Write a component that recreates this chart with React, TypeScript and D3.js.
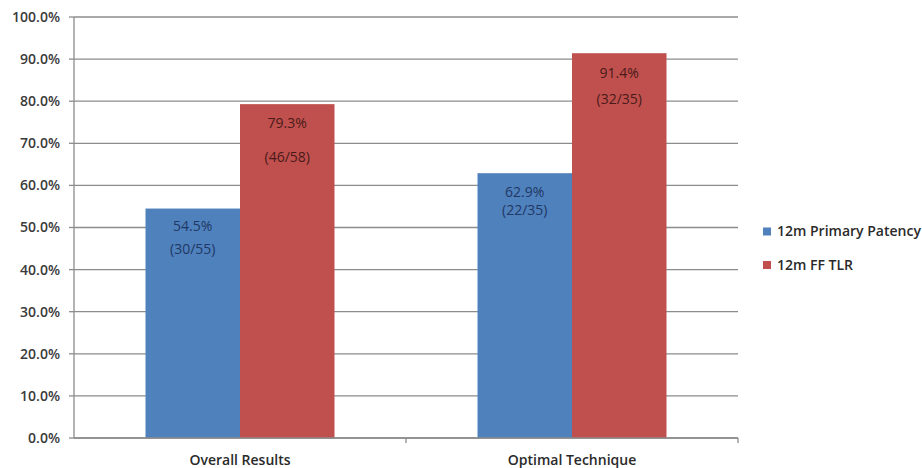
import React from "react";
import * as d3 from "d3";

const categories = ["Overall Results", "Optimal Technique"];
const seriesNames = ["12m Primary Patency", "12m FF TLR"];
const patency = [54.5, 62.9];
const tlr = [79.3, 91.4];
const patencyLabels = [["54.5%", "(30/55)"], ["62.9%", "(22/35)"]];
const tlrLabels = [["79.3%", "(46/58)"], ["91.4%", "(32/35)"]];
const yTicks = [0, 10, 20, 30, 40, 50, 60, 70, 80, 90, 100];

const colors = ["#4f81bd", "#c0504d"];
const labelColors = ["#1f3864", "#4a1a1a"];
// line offsets (px below bar top) per series / category / line
const lineOffsets = [[[18, 41], [18.5, 36.5]], [[19, 53], [20, 46]]];

export default function App() {
  const W = 922, H = 468;
  const left = 74, right = 738, top = 17, bottom = 438;
  const y = d3.scaleLinear().domain([0, 100]).range([bottom, top]);
  const x0 = d3.scaleBand().domain(categories).range([left, right]).paddingInner(0).paddingOuter(0);
  const groupW = 189;
  const x1 = d3.scaleBand().domain(seriesNames).range([0, groupW]);
  const series = [patency, tlr];
  const labels = [patencyLabels, tlrLabels];
  const font = "'Open Sans', 'Liberation Sans', sans-serif";

  return (
    <svg width={W} height={H} style={{ position: "absolute", left: 0, top: 0, background: "#fff" }} fontFamily={font}>
      <rect width={W} height={H} fill="#fff" />
      {yTicks.map((t) => (
        <g key={t}>
          <line x1={left} x2={right} y1={y(t)} y2={y(t)} stroke="#8c8c8c" strokeWidth={1.3} />
          <line x1={left - 5} x2={left} y1={y(t)} y2={y(t)} stroke="#8c8c8c" strokeWidth={1.3} />
          <text x={left - 14} y={y(t)} dy="0.35em" textAnchor="end" fontSize={14} fontWeight={600} fill="#3a3a3a">
            {t.toFixed(1) + "%"}
          </text>
        </g>
      ))}
      <line x1={left} x2={left} y1={top} y2={bottom} stroke="#8c8c8c" strokeWidth={1.3} />
      {categories.map((c, ci) => {
        const gx = (x0(c) as number) + (x0.bandwidth() - groupW) / 2;
        return (
          <g key={c}>
            {series.map((s, si) => {
              const bx = gx + (x1(seriesNames[si]) as number);
              const bw = x1.bandwidth();
              const by = y(s[ci]);
              return (
                <g key={si}>
                  <rect x={bx} y={by} width={bw} height={bottom - by} fill={colors[si]} />
                  {labels[si][ci].map((l, li) => (
                    <text key={li} x={bx + bw / 2} y={by + lineOffsets[si][ci][li]} dy="0.35em"
                      textAnchor="middle" fontSize={14} fontWeight={500} fill={labelColors[si]}>{l}</text>
                  ))}
                </g>
              );
            })}
            <text x={(x0(c) as number) + x0.bandwidth() / 2} y={460} dy="0.35em" textAnchor="middle" fontSize={14} fontWeight={600} fill="#2a2a2a">{c}</text>
          </g>
        );
      })}
      <line x1={left} x2={right} y1={bottom} y2={bottom} stroke="#8c8c8c" strokeWidth={1.3} />
      {categories.map((c) => (
        <line key={c} x1={(x0(c) as number) + x0.bandwidth()} x2={(x0(c) as number) + x0.bandwidth()} y1={bottom} y2={bottom + 5} stroke="#8c8c8c" strokeWidth={1.3} />
      ))}
      {seriesNames.map((n, i) => (
        <g key={n} transform={`translate(763, ${231.5 + i * 33.5})`}>
          <rect x={0} y={-4} width={8} height={8} fill={colors[i]} />
          <text x={14} y={0} dy="0.35em" fontSize={14} fontWeight={600} fill="#2a2a2a">{n}</text>
        </g>
      ))}
    </svg>
  );
}
